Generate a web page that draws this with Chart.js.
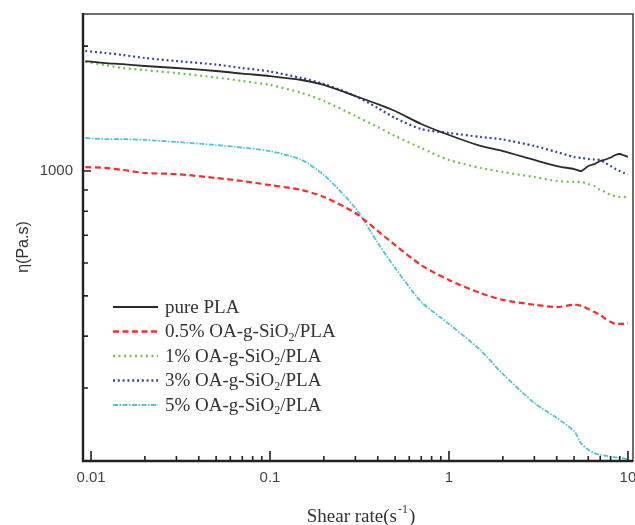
<!DOCTYPE html>
<html>
<head>
<meta charset="utf-8">
<script src="https://cdn.jsdelivr.net/npm/chart.js@4.4.1/dist/chart.umd.min.js"></script>
<style>
  html, body { margin: 0; padding: 0; background: #fff; }
</style>
</head>
<body>
<canvas id="viscosityChart" width="635" height="525"></canvas>
<script>
// shear rate (1/s) shared by every curve
const shearRate = [0.0093, 0.012, 0.015, 0.02, 0.03, 0.05, 0.07, 0.1, 0.15, 0.2, 0.3, 0.4, 0.5, 0.7, 1, 1.5, 2, 3, 4, 5, 5.5, 6, 6.5, 7, 7.5, 8, 8.5, 9, 9.5, 10];

// complex viscosity (Pa.s)
const etaPure = [1841, 1820, 1810, 1791, 1771, 1742, 1717, 1694, 1657, 1612, 1516, 1450, 1395, 1298, 1221, 1149, 1117, 1063, 1028, 1011, 1000, 1028, 1039, 1057, 1066, 1078, 1093, 1099, 1090, 1081];
const eta05 = [1022, 1017, 1006, 989, 983, 962, 946, 925, 900, 866, 792, 717, 663, 593, 546, 508, 489, 476, 470, 476, 473, 465, 457, 450, 440, 433, 428, 428, 428, 430];
const eta1 = [1831, 1800, 1771, 1751, 1722, 1680, 1648, 1612, 1542, 1475, 1357, 1276, 1214, 1136, 1063, 1017, 994, 967, 946, 941, 941, 930, 920, 900, 890, 875, 870, 866, 866, 861];
const eta3 = [1946, 1925, 1904, 1872, 1841, 1805, 1771, 1737, 1675, 1621, 1516, 1419, 1342, 1262, 1235, 1208, 1191, 1149, 1111, 1081, 1075, 1069, 1066, 1063, 1045, 1028, 1011, 1000, 989, 983];
const eta5 = [1201, 1194, 1194, 1188, 1175, 1155, 1139, 1117, 1063, 978, 814, 671, 584, 484, 428, 370, 324, 276, 254, 236, 220, 213, 209, 207, 206, 205, 204, 204, 203, 202];

const seriesLabels = ["pure PLA", "0.5% OA-g-SiO₂/PLA", "1% OA-g-SiO₂/PLA", "3% OA-g-SiO₂/PLA", "5% OA-g-SiO₂/PLA"];

const xMajorTicks = [0.01, 0.1, 1, 10];
const xMinorTicks = [0.02, 0.03, 0.04, 0.05, 0.06, 0.07, 0.08, 0.09, 0.2, 0.3, 0.4, 0.5, 0.6, 0.7, 0.8, 0.9, 2, 3, 4, 5, 6, 7, 8, 9];
const xTickLabels = ["0.01", "0.1", "1", "10"];
const yMajorTicks = [1000];
const yMinorTicks = [300, 400, 500, 600, 700, 800, 900, 2000];
const yTickLabels = ["1000"];

const styles = [
  { color: "#2b2b2b", width: 1.8, dash: [] },
  { color: "#ff2b2b", width: 2.2, dash: [6, 3.5] },
  { color: "#6cc644", width: 2.2, dash: [2, 3.5] },
  { color: "#3447a8", width: 2.2, dash: [2, 2.8] },
  { color: "#4cc6dc", width: 1.8, dash: [5, 1.5, 1.5, 1.5] }
];

const allSeries = [etaPure, eta05, eta1, eta3, eta5];

const datasets = allSeries.map((vals, i) => ({
  label: seriesLabels[i],
  data: vals.map((v, j) => ({ x: shearRate[j], y: v })),
  borderColor: styles[i].color,
  borderWidth: styles[i].width,
  borderDash: styles[i].dash,
  pointRadius: 0,
  tension: 0.25,
  fill: false
}));

// draws "SiO₂" style labels with a real lowered subscript
function drawLabel(ctx, text, x, y, size) {
  const parts = text.split("₂");
  let cx = x;
  parts.forEach((part, i) => {
    ctx.font = size + "px 'Liberation Serif'";
    ctx.fillText(part, cx, y);
    cx += ctx.measureText(part).width;
    if (i < parts.length - 1) {
      ctx.font = Math.round(size * 0.62) + "px 'Liberation Serif'";
      ctx.fillText("2", cx, y + 5);
      cx += ctx.measureText("2").width;
    }
  });
}

const axisDecor = {
  id: "axisDecor",
  afterDraw(chart) {
    const { ctx, chartArea: a, scales } = chart;
    const x = scales.x, y = scales.y;
    ctx.save();

    // frame
    ctx.strokeStyle = "#333";
    ctx.lineWidth = 1.4;
    ctx.strokeRect(a.left, a.top, a.right - a.left, a.bottom - a.top);
    ctx.strokeStyle = "#222";
    ctx.lineWidth = 2.4;
    ctx.beginPath();
    ctx.moveTo(a.left, a.top - 1);
    ctx.lineTo(a.left, a.bottom);
    ctx.lineTo(a.right, a.bottom);
    ctx.stroke();

    // inward ticks
    ctx.lineWidth = 1.6;
    ctx.beginPath();
    xMajorTicks.forEach(v => { const p = x.getPixelForValue(v); ctx.moveTo(p, a.bottom); ctx.lineTo(p, a.bottom - 10); });
    xMinorTicks.forEach(v => { const p = x.getPixelForValue(v); ctx.moveTo(p, a.bottom); ctx.lineTo(p, a.bottom - 5); });
    yMajorTicks.forEach(v => { const p = y.getPixelForValue(v); ctx.moveTo(a.left, p); ctx.lineTo(a.left + 8, p); });
    yMinorTicks.forEach(v => { const p = y.getPixelForValue(v); ctx.moveTo(a.left, p); ctx.lineTo(a.left + 5, p); });
    ctx.stroke();

    // tick labels
    ctx.fillStyle = "#444";
    ctx.font = "15px 'Liberation Sans'";
    ctx.textAlign = "center";
    ctx.textBaseline = "middle";
    xMajorTicks.forEach((v, i) => ctx.fillText(xTickLabels[i], x.getPixelForValue(v), a.bottom + 17));
    ctx.textAlign = "right";
    yMajorTicks.forEach((v, i) => ctx.fillText(yTickLabels[i], a.left - 10, y.getPixelForValue(v)));

    // axis titles
    ctx.fillStyle = "#333";
    ctx.textBaseline = "alphabetic";
    ctx.textAlign = "left";
    ctx.font = "19px 'Liberation Serif'";
    const t1 = "Shear rate(s";
    const w1 = ctx.measureText(t1).width;
    ctx.font = "12px 'Liberation Serif'";
    const wSup = ctx.measureText("-1").width;
    ctx.font = "19px 'Liberation Serif'";
    const wEnd = ctx.measureText(")").width;
    let tx = (a.left + a.right) / 2 - (w1 + wSup + wEnd) / 2 + 2;
    const ty = 522;
    ctx.fillText(t1, tx, ty);
    ctx.font = "12px 'Liberation Serif'";
    ctx.fillText("-1", tx + w1 + 1, ty - 9);
    ctx.font = "19px 'Liberation Serif'";
    ctx.fillText(")", tx + w1 + wSup + 2, ty);

    ctx.save();
    ctx.translate(24, 247);
    ctx.rotate(-Math.PI / 2);
    ctx.textAlign = "center";
    ctx.textBaseline = "middle";
    ctx.font = "16px 'Liberation Sans'";
    ctx.fillText("η(Pa.s)", 0, 0);
    ctx.restore();

    // legend
    chart.data.datasets.forEach((ds, i) => {
      const ly = 307 + i * 24.5;
      ctx.strokeStyle = ds.borderColor;
      ctx.lineWidth = ds.borderWidth + 0.4;
      ctx.setLineDash(ds.borderDash);
      ctx.beginPath();
      ctx.moveTo(113, ly);
      ctx.lineTo(158, ly);
      ctx.stroke();
      ctx.setLineDash([]);
      ctx.fillStyle = "#333";
      ctx.textAlign = "left";
      ctx.textBaseline = "middle";
      drawLabel(ctx, ds.label, 165, ly + 1, 19);
    });

    ctx.restore();
  }
};

new Chart(document.getElementById("viscosityChart"), {
  type: "line",
  data: { datasets },
  options: {
    responsive: false,
    animation: false,
    layout: { padding: { top: 14, right: 2, left: 0, bottom: 0 } },
    plugins: { legend: { display: false }, tooltip: { enabled: false } },
    scales: {
      x: {
        type: "logarithmic",
        min: 0.00902,
        max: 10.67,
        grid: { display: false },
        border: { display: false },
        ticks: { display: false },
        afterFit(s) { s.height = 64; }
      },
      y: {
        type: "logarithmic",
        min: 200,
        max: 2390,
        grid: { display: false },
        border: { display: false },
        ticks: { display: false },
        afterFit(s) { s.width = 83; }
      }
    }
  },
  plugins: [axisDecor]
});
</script>
</body>
</html>
